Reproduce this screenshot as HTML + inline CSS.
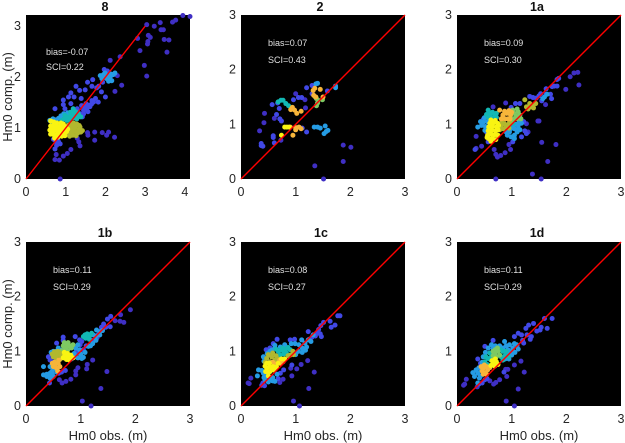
<!DOCTYPE html>
<html>
<head>
<meta charset="utf-8">
<style>
html,body{margin:0;padding:0;background:#fff;}
svg{display:block;font-family:"Liberation Sans",Arial,sans-serif;}
.tick{font-size:12.5px;fill:#262626;}
.title{font-size:12.5px;font-weight:bold;fill:#111;text-anchor:middle;}
.axl{font-size:13px;fill:#262626;text-anchor:middle;}
.stat{font-size:9px;fill:#e0e0e0;}
</style>
</head>
<body>
<svg id="chart" width="625" height="443" viewBox="0 0 625 443" xmlns="http://www.w3.org/2000/svg">
<rect x="0" y="0" width="625" height="443" fill="#fff"/>
<rect x="26" y="15" width="164" height="164" fill="#000"/>
<rect x="241" y="15" width="164" height="164" fill="#000"/>
<rect x="457" y="15" width="164" height="164" fill="#000"/>
<rect x="26" y="242" width="164" height="164" fill="#000"/>
<rect x="241" y="242" width="164" height="164" fill="#000"/>
<rect x="457" y="242" width="164" height="164" fill="#000"/>
<g id="marks"></g>
<text class="title" x="105" y="11">8</text>
<text class="title" x="320" y="11">2</text>
<text class="title" x="537" y="11">1a</text>
<text class="title" x="105" y="237">1b</text>
<text class="title" x="321" y="237">1c</text>
<text class="title" x="537" y="237">1d</text>
<text class="axl" transform="translate(12,97) rotate(-90)">Hm0 comp. (m)</text>
<text class="axl" transform="translate(12,324) rotate(-90)">Hm0 comp. (m)</text>
<text class="axl" x="108" y="440">Hm0 obs. (m)</text>
<text class="axl" x="323" y="440">Hm0 obs. (m)</text>
<text class="axl" x="539" y="440">Hm0 obs. (m)</text>
<text class="stat" x="46" y="55">bias=-0.07</text>
<text class="stat" x="46" y="70">SCI=0.22</text>
<text class="stat" x="268" y="46">bias=0.07</text>
<text class="stat" x="268" y="63">SCI=0.43</text>
<text class="stat" x="484" y="46">bias=0.09</text>
<text class="stat" x="484" y="63">SCI=0.30</text>
<text class="stat" x="53" y="273">bias=0.11</text>
<text class="stat" x="53" y="290">SCI=0.29</text>
<text class="stat" x="268" y="273">bias=0.08</text>
<text class="stat" x="268" y="290">SCI=0.27</text>
<text class="stat" x="484" y="273">bias=0.11</text>
<text class="stat" x="484" y="290">SCI=0.29</text>
</svg>
<script>
const ticksStandard = [0, 1, 2, 3];
const ticksObs8 = [0, 1, 2, 3, 4];
const ticksComp8 = [0, 1, 2, 3];

const p8Dark = [[.86,0],[.73,.38],[.84,.37],[.76,.48],[.94,.45],[1.04,.5],[1.13,.58],[1.29,.8],[1.33,.73],[1.36,.65],[1.55,.91],[1.56,.86],[1.73,.92],[1.73,.76],[1.92,.91],[2.03,.86],[2.08,.92],[2.23,.82],[2.24,1.72],[2.41,1.84],[2.37,2.4],[2.12,2.33],[3.04,2.02],[2.98,2.23],[3.55,2.49],[3.6,2.73],[3.48,2.74],[2.87,2.52],[2.81,2.76],[3.06,2.65],[3.07,2.7],[3.08,2.82],[3.13,2.78],[3.04,3.03],[3.23,3],[3.38,3.07],[3.4,2.93],[3.46,2.93],[3.69,3.08],[3.77,3.12],[3.95,3.21],[4.13,3.19],[2.3,2.03]];
const p8Blue = [[.94,1.55],[1.07,1.61],[1.13,1.69],[1.26,1.82],[1.35,1.74],[1.49,1.75],[1.55,1.9],[1.68,1.95],[1.66,1.82],[1.78,1.79],[1.93,1.9],[2,1.61],[1.9,1.71],[1.83,1.82],[1.39,1.58],[1.21,1.61],[1.13,1.48],[.94,1.46],[.98,1.38],[.73,1.38],[1.36,1.28],[1.45,1.35],[1.53,1.38],[1.61,1.42],[1.7,1.51],[1.82,1.51],[1.66,1.54],[1.51,1.48],[1.29,1.38],[1.4,1.44],[.73,.76],[.82,.73],[.77,.66],[.73,.59],[.86,.69],[.69,.78],[1.45,1.28],[1.56,1.32],[1.97,2.15],[2.05,2.12],[1.58,1.45],[1.65,1.47],[1.75,1.58],[1.48,1.42],[1.42,1.22],[.8,.78],[.78,.7]];
const p8Sky = [[1.87,2.03],[1.95,2.05],[2.03,1.97],[2.12,2],[2.2,2.05],[2.24,2.08],[2.08,1.92],[2.16,1.93],[1.99,2.08],[1.91,1.97],[.6,1.15],[.68,1.18],[.75,1.16],[.9,1.2],[.95,1.28],[.82,1.19],[1.05,1.3],[1.12,1.25],[1.97,2],[2.06,2.02],[2.14,2.06],[2.1,1.97],[.64,1.13],[.88,1.24]];
const p8Teal = [[.98,1.25],[1.07,1.22],[1.15,1.28],[1.19,1.38],[1.32,1.28],[1.24,1.22],[.9,1.15],[1.03,1.15],[1.1,1.17],[1.18,1.2],[1.28,1.18],[1.25,1.32],[1.38,1.22],[1.12,1.31],[1.2,1.3],[1.02,1.2],[.96,1.18],[1.3,1.24]];
const p8Olive = [[1.05,1.05],[1.12,1.08],[1.2,1.1],[1.28,1.08],[1.36,1.02],[1.08,.98],[1.16,1],[1.24,1.02],[1.32,.96],[1.42,.95],[1.06,.9],[1.14,.92],[1.22,.94],[1.3,.9],[1.1,.84],[1.18,.86],[1.26,.85],[1.34,1.05],[1.38,.92],[1.15,1.05]];
const p8Yellow = [[.62,1.14],[.7,1.12],[.78,1.1],[.62,1.04],[.7,1.05],[.78,1.03],[.86,1.03],[.94,1.08],[.6,.96],[.68,.97],[.76,.95],[.84,.95],[.92,.98],[1,1.02],[.62,.88],[.7,.87],[.78,.87],[.86,.88],[.94,.9],[1.02,.93],[.72,.8],[.8,.82],[.88,1.1],[.96,1],[.66,.92],[.82,1],[.74,1],[.9,.84],[.98,.85],[1.05,.98]];

const p2Dark = [[1.51,0],[1.35,.24],[1.87,.32],[1.87,.62],[2.01,.58],[.34,.88],[.42,1.03],[.43,1.2],[.61,1.11],[1,1.56],[1.17,1.45],[1.18,1.3],[.73,.71]];
const p2Blue = [[.37,.65],[.37,.61],[.4,.6],[.59,.79],[.59,.76],[.61,.66],[.57,1.36],[.65,1.18],[.7,1.29],[.67,1.39],[.71,1.1],[.74,1.06],[.96,1.45],[1.05,1.49],[1.11,1.49],[1.2,1.67],[1.3,1.71],[1.3,1.56],[1.2,.86],[1.12,.93],[1.58,1.61]];
const p2Sky = [[1.4,1.75],[1.37,1.74],[1.73,1.7],[1.73,1.67],[1.34,.95],[1.4,.95],[1.45,.93],[1.52,.83],[1.56,.87],[1.59,.89],[1.54,.97]];
const p2Teal = [[.68,1.41],[.73,1.44],[.77,1.44],[.82,1.38],[.87,1.34]];
const p2Green = [[1.38,1.47],[1.41,1.44],[1.38,1.34],[1.49,1.45],[1.36,1.5],[1.4,1.39]];
const p2Orange = [[1.32,1.62],[1.33,1.53],[1.37,1.5],[1.45,1.64],[1.5,1.5],[.94,1.31],[.98,1.26],[.91,1.27],[1.02,1.2],[1.1,1.24],[.95,.8],[1,.94],[1,.9],[1.06,.95],[1.1,.92],[.9,.95],[1.35,1.66]];
const p2Yellow = [[.8,.95],[.84,.95],[.88,.95],[.74,.8]];

const p1aDark = [[.71,0],[1.54,0],[1.38,.09],[1.66,.32],[1.55,.67],[1.81,.63],[.35,.56],[.35,.78],[.45,.6],[.68,.54],[.71,.45],[.74,.4],[.8,.43],[.88,.48],[.98,.54],[.95,.63],[.89,1.39],[.66,1.32],[2.23,1.72],[2.21,1.95],[2.14,1.94],[2.07,1.87],[1.99,1.64],[1.62,1.36],[1.48,1.06],[1.5,1.06],[1.27,1.01],[1.3,.86]];
const p1aBlue = [[1.83,1.82],[1.86,1.84],[1.74,1.69],[1.83,1.7],[1.63,1.65],[1.71,1.55],[1.63,1.55],[1.73,1.47],[1.53,1.56],[1.33,1.51],[1.39,1.49],[1.07,1.38],[1.15,1.38],[.99,1.31],[.48,1.09],[.54,.86],[.57,.68],[1.02,.68],[1.18,.77],[1.24,.88],[1.27,.83],[1.45,1.48],[1.5,1.52],[.33,.54],[1.55,1.43],[1.78,1.7],[1.22,1.05],[1.15,1.12]];
const p1aSky = [[.38,.95],[.43,1.05],[.48,1.04],[.52,.96],[.55,1.05],[.6,1.1],[.51,.89],[.96,.86],[1.05,.92],[1.12,.98],[1.05,.8],[1.15,.9],[1.1,.86],[.92,.8],[.99,.77],[1.57,1.47],[1.6,1.5],[.62,1.02],[1.18,1.02],[.45,.98],[.5,1.12],[.55,.95],[1.02,.98],[1.08,1],[.98,.92],[1.12,.92],[1.05,.74],[1.14,1.04],[.9,.86],[1.65,1.55]];
const p1aTeal = [[.57,1.26],[.57,1.13],[.63,1.12],[.69,1.17],[.72,1.13],[.61,1.2],[.66,1.08],[.97,.98],[1.03,1.02],[.65,1.22],[.54,1.18],[.72,1.2]];
const p1aGreen = [[1.05,1.2],[1.12,1.23],[1.09,1.1],[1.15,1.17],[1.03,1.1],[1.08,1.15],[1,1.06],[1.17,1.1],[1.02,1.26],[1.1,1.28]];
const p1aOlive = [[.81,.98],[.87,1.01],[.93,.98],[.84,.92],[.9,.95],[.78,.9],[.96,1.03],[1.24,1.45],[1.27,1.32],[1.33,1.38],[1.39,1.35],[1.44,1.38],[1.35,1.32],[.95,.93],[.82,1.04],[1.3,1.28],[1.4,1.3]];
const p1aOrange = [[.78,1.26],[.84,1.17],[.91,1.2],[.98,1.17],[.88,1.1],[.93,1.1],[.81,1.1],[.87,1.24],[.95,1.25],[1,1.22],[.97,1.1]];
const p1aYellow = [[.6,1.02],[.67,1.03],[.74,1.02],[.58,.95],[.65,.96],[.72,.95],[.57,.88],[.64,.89],[.71,.88],[.75,.9],[.56,.8],[.62,.82],[.69,.81],[.75,.8],[.58,.74],[.65,.74],[.71,.72],[.62,.69],[.55,.76],[.76,.98],[.7,1.07],[.62,1.08]];

const p1bDark = [[1.19,0],[1.03,.09],[1.37,.32],[1.48,.63],[1.22,.84],[1.12,.76],[1.11,.68],[.95,.7],[.91,.64],[.91,.57],[.82,.49],[.73,.45],[.66,.42],[.61,.48],[1.91,1.76],[1.79,1.53],[1.73,1.67],[1.72,1.55],[1.63,1.56]];
const p1bBlue = [[1.55,1.64],[1.49,1.59],[1.54,1.45],[1.46,1.44],[1.38,1.44],[1.32,1.3],[.68,1.26],[.68,1.2],[.9,1.27],[.98,1.21],[.99,1.12],[.56,1.15],[.41,.9],[.44,.84],[.5,.81],[.43,.42],[1.02,1.18],[.92,1.02],[.6,.6],[.95,.98],[1.2,1.2],[1.42,1.5],[1.3,1.25],[1.1,1.1],[1.05,1.03],[.65,.62],[.72,.65]];
const p1bSky = [[.32,.72],[.32,.57],[.38,.54],[.44,.51],[.44,.72],[.47,.63],[.5,.54],[.42,.57],[.5,.68],[.5,1],[.59,1.06],[.88,.96],[1.02,.87],[1.05,.89],[.91,1.06],[.98,1.03],[1.14,1.09],[1.22,1.14],[1.29,1.39],[1.35,1.36],[1.23,1.3],[1.18,1.1],[1.28,1.28],[.83,.86],[1,.95],[.55,1],[.65,1.02],[.44,.6],[.38,.58],[.48,.58],[.46,.98],[.95,.88],[.9,.9],[1.35,1.3],[1.28,1.2],[1.4,1.38],[.95,1.12],[1.08,.98],[.56,.62]];
const p1bTeal = [[1.08,1.3],[1.12,1.32],[1.17,1.29],[1.14,1.24],[1.09,1.24],[1.2,1.33],[1.05,1.27],[1.16,1.22]];
const p1bGreen = [[.68,1.1],[.74,1.09],[.77,1.16],[.83,1.06],[.71,1.03],[.65,1.01],[.76,1.02],[.7,1.16],[.86,1.12],[.8,1.1]];
const p1bOlive = [[.53,.93],[.59,.94],[.65,.9],[.56,.87],[.62,.97],[.52,.99],[.58,1],[.62,.85],[.5,.9],[.48,.95],[.55,.82],[.66,.95]];
const p1bOrange = [[.53,.75],[.59,.78],[.56,.69],[.62,.72],[.52,.8],[.6,.84],[.5,.72],[.58,.64],[.48,.78]];
const p1bYellow = [[.71,.93],[.77,.9],[.82,.93],[.74,.85],[.79,.84],[.7,.98],[.86,.88],[.68,.88],[.76,.96]];

const p1cDark = [[1.07,0],[.96,.09],[1.24,.32],[1.34,.62],[1.22,.83],[1.1,.76],[1.02,.68],[.91,.69],[.93,.55],[.77,.49],[.71,.43],[.13,.42],[.18,.51],[.15,.41]];
const p1cBlue = [[1.81,1.65],[1.77,1.65],[1.72,1.48],[1.65,1.44],[1.63,1.55],[1.51,1.53],[1.46,1.47],[1.47,1.27],[1.4,1.33],[1.23,1.36],[.66,1.22],[.9,1.21],[.98,1.22],[.59,1.14],[.53,1.06],[.38,.38],[.43,.37],[.93,.75],[.46,1.03],[1.36,1.28],[1.42,1.4],[1.45,1.32],[.68,.5],[.4,.42],[1.3,1.26],[1.25,1.22],[.72,.6],[.78,.66]];
const p1cSky = [[.32,.66],[.3,.55],[.41,.6],[.44,.48],[.53,.49],[.62,.45],[1.05,1],[1.12,1.06],[1.17,1.15],[1.11,1.21],[1.23,1.21],[1.32,1.3],[.99,1.14],[.53,1],[.62,1.06],[.41,.9],[.8,1.12],[.72,1.08],[1.06,1.12],[1.12,.98],[1.2,1.08],[.48,.96],[.38,.65],[.47,.55],[.58,.52],[.92,1.14],[.56,1.02],[1.28,1.18],[1,.94],[1.18,1.02],[.42,.52],[.5,.44],[.58,.46],[.66,.58],[.62,1.11],[.42,.82]];
const p1cTeal = [[.68,1],[.77,1.01],[.83,.97],[.71,.93],[.9,1.03],[.76,1.06],[.86,1.07],[.64,1.04],[.72,1.02],[.82,1.04],[.78,.95]];
const p1cOlive = [[.47,.87],[.56,.9],[.62,.84],[.53,.81],[.95,1],[.9,.93],[.5,.94],[.58,.97],[.44,.8],[.64,.92],[.68,.86],[.96,.94],[.86,.92]];
const p1cOrange = [[.65,.77],[.71,.84],[.77,.81],[.58,.8],[.72,.78]];
const p1cYellow = [[.47,.78],[.53,.72],[.47,.69],[.5,.61],[.59,.72],[.68,.78],[.74,.86],[.53,.63],[.65,.71],[.8,.86],[.56,.66],[.44,.73],[.5,.55],[.45,.63],[.6,.66],[.52,.78]];

const p1dDark = [[1.05,0],[.9,.09],[1.12,.31],[1.23,.62],[1.17,.82],[1.05,.75],[.91,.54],[.89,.67],[.93,.67],[.78,.48],[.71,.43],[.67,.4],[.6,.46],[.12,.38],[.17,.49],[.14,.4],[.37,.35]];
const p1dBlue = [[1.74,1.6],[1.6,1.6],[1.65,1.42],[1.54,1.44],[1.52,1.39],[1.46,1.37],[1.4,1.51],[1.31,1.48],[1.26,1.42],[1.36,1.27],[1.34,1.22],[1.22,1.15],[1.12,1.33],[1.05,1.27],[.51,1.09],[.66,1.2],[.38,.86],[.43,.78],[.51,.48],[1.18,1.3],[1.28,1.3],[.86,.62],[1.2,1.2],[1.1,1.1],[.4,.4],[.46,.42],[.55,.5]];
const p1dSky = [[.29,.61],[.38,.6],[.32,.54],[.41,.51],[.48,.72],[.57,1.06],[.63,1.12],[.87,1.18],[.96,1.12],[1.02,1.06],[1.12,1.04],[.93,1.03],[.84,1.06],[1.09,1.12],[1,.93],[.43,.55],[.35,.66],[.38,.42],[.46,.8],[.66,1.05],[1.06,.98],[.95,.95],[.7,1.1],[.78,1.1],[.9,1.1],[1,1],[.52,.98],[.44,.66],[.4,.7],[.88,.86],[.95,.86],[1.05,1.14],[.48,.9]];
const p1dTeal = [[.51,.81],[.57,.87],[.63,.9],[.55,.76],[.84,1],[.81,.9],[.9,1],[.62,.84],[.88,.92],[.6,.97],[.53,.9],[.84,.84],[.94,.9],[.8,1.03]];
const p1dGreen = [[.69,.96],[.75,1],[.72,.9],[.66,.92],[.7,1.03],[.78,.93],[.74,1.06],[.66,1]];
const p1dOrange = [[.48,.69],[.54,.72],[.51,.61],[.46,.64],[.56,.66],[.48,.58],[.44,.72],[.6,.7],[.54,.58],[.5,.75]];
const p1dYellow = [[.66,.78],[.72,.81],[.69,.73],[.75,.76],[.64,.83],[.7,.86],[.62,.74]];

const colorDark = "#3f2fc4";
const colorBlue = "#4148e6";
const colorSky = "#259ce4";
const colorTeal = "#12b8b4";
const colorGreen = "#7ec962";
const colorOlive = "#b2b82e";
const colorOrange = "#f7b53a";
const colorYellow = "#f9f412";

const panels = [
  {id:"8", left:26, top:15, xMax:4.13, yMax:3.22, xTicks:ticksObs8, yTicks:ticksComp8,
   layers:[[p8Dark,colorDark],[p8Blue,colorBlue],[p8Sky,colorSky],[p8Teal,colorTeal],[p8Olive,colorOlive],[p8Yellow,colorYellow]]},
  {id:"2", left:241, top:15, xMax:3, yMax:3, xTicks:ticksStandard, yTicks:ticksStandard,
   layers:[[p2Dark,colorDark],[p2Blue,colorBlue],[p2Sky,colorSky],[p2Teal,colorTeal],[p2Green,colorGreen],[p2Orange,colorOrange],[p2Yellow,colorYellow]]},
  {id:"1a", left:457, top:15, xMax:3, yMax:3, xTicks:ticksStandard, yTicks:ticksStandard,
   layers:[[p1aDark,colorDark],[p1aBlue,colorBlue],[p1aSky,colorSky],[p1aTeal,colorTeal],[p1aGreen,colorGreen],[p1aOlive,colorOlive],[p1aOrange,colorOrange],[p1aYellow,colorYellow]]},
  {id:"1b", left:26, top:242, xMax:3, yMax:3, xTicks:ticksStandard, yTicks:ticksStandard,
   layers:[[p1bDark,colorDark],[p1bBlue,colorBlue],[p1bSky,colorSky],[p1bTeal,colorTeal],[p1bGreen,colorGreen],[p1bOlive,colorOlive],[p1bOrange,colorOrange],[p1bYellow,colorYellow]]},
  {id:"1c", left:241, top:242, xMax:3, yMax:3, xTicks:ticksStandard, yTicks:ticksStandard,
   layers:[[p1cDark,colorDark],[p1cBlue,colorBlue],[p1cSky,colorSky],[p1cTeal,colorTeal],[p1cOlive,colorOlive],[p1cOrange,colorOrange],[p1cYellow,colorYellow]]},
  {id:"1d", left:457, top:242, xMax:3, yMax:3, xTicks:ticksStandard, yTicks:ticksStandard,
   layers:[[p1dDark,colorDark],[p1dBlue,colorBlue],[p1dSky,colorSky],[p1dTeal,colorTeal],[p1dGreen,colorGreen],[p1dOrange,colorOrange],[p1dYellow,colorYellow]]}
];

const SVGNS = "http://www.w3.org/2000/svg";
const PLOT_SIZE = 164;
const marks = document.getElementById("marks");

panels.forEach(function (panel) {
  const xScale = function (v) { return panel.left + v / panel.xMax * PLOT_SIZE; };
  const yScale = function (v) { return panel.top + PLOT_SIZE - v / panel.yMax * PLOT_SIZE; };

  panel.layers.forEach(function (layer) {
    layer[0].forEach(function (pt) {
      const c = document.createElementNS(SVGNS, "circle");
      c.setAttribute("cx", xScale(pt[0]).toFixed(2));
      c.setAttribute("cy", yScale(pt[1]).toFixed(2));
      c.setAttribute("r", "2.5");
      c.setAttribute("fill", layer[1]);
      
      
      marks.appendChild(c);
    });
  });

  const line = document.createElementNS(SVGNS, "line");
  line.setAttribute("x1", xScale(0));
  line.setAttribute("y1", yScale(0));
  line.setAttribute("x2", xScale(3));
  line.setAttribute("y2", yScale(3));
  line.setAttribute("stroke", "#f00");
  line.setAttribute("stroke-width", "1.4");
  
  
  marks.appendChild(line);

  panel.xTicks.forEach(function (t) {
    const el = document.createElementNS(SVGNS, "text");
    el.setAttribute("class", "tick");
    el.setAttribute("x", xScale(t));
    el.setAttribute("y", panel.top + PLOT_SIZE + 17);
    el.setAttribute("text-anchor", "middle");
    
    
    el.textContent = t;
    marks.appendChild(el);
  });

  panel.yTicks.forEach(function (t) {
    const el = document.createElementNS(SVGNS, "text");
    el.setAttribute("class", "tick");
    el.setAttribute("x", panel.left - 5);
    el.setAttribute("y", yScale(t) + 4);
    el.setAttribute("text-anchor", "end");
    
    
    el.textContent = t;
    marks.appendChild(el);
  });
});
</script>
</body>
</html>
